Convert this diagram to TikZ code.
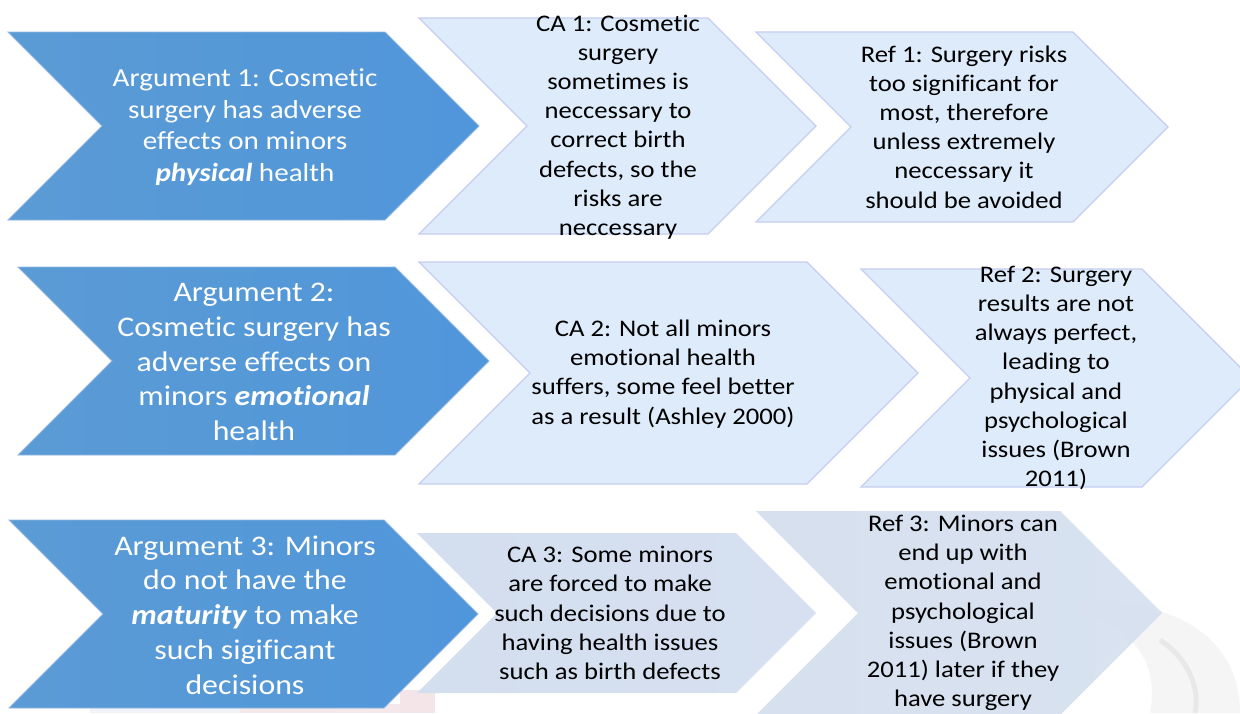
\documentclass[tikz,border=0pt]{standalone}
\usepackage{fontspec}
\setmainfont{Carlito}[FakeStretch=1.12, Ligatures={NoCommon}]
\usetikzlibrary{calc}

\definecolor{argL}{HTML}{5B9BD5}
\definecolor{argR}{HTML}{5096DA}
\definecolor{argEdge}{HTML}{8FB6E3}
\definecolor{paleFill}{HTML}{DDEBFA}
\definecolor{paleEdge}{HTML}{C6CDF2}
\definecolor{greyFill}{HTML}{D3DEEE}
\definecolor{greyFillB}{HTML}{D6E0F0}
\definecolor{hazeGrey}{HTML}{DADADA}
\definecolor{hazePink}{HTML}{EBCDD3}
\definecolor{hazeBlue}{HTML}{D9DDEE}

% chevron: left x, tip x, centre y, half height (45 degree sides)
\newcommand{\chevron}[5]{%
  \path[#1] (#2,#4-#5) -- (#3-#5,#4-#5) -- (#3,#4) -- (#3-#5,#4+#5)
    -- (#2,#4+#5) -- (#2+#5,#4) -- cycle;}

\tikzset{
  argshape/.style={left color=argL, right color=argR, draw=argEdge, line width=0.8pt},
  paleshape/.style={fill=paleFill, draw=paleEdge, line width=1.2pt},
  greyshape/.style={left color=greyFill, right color=greyFillB, draw=none},
  argtext/.style={align=center, text=white, inner sep=0pt,
    font=\fontsize{28.4}{34.7}\selectfont},
  argtextsmall/.style={argtext, font=\fontsize{26}{31.7}\selectfont},
  boxtext/.style={align=center, text=black, inner sep=0pt,
    font=\fontsize{23.8}{29.2}\selectfont},
}
\newcommand{\emword}[1]{\textbf{\textit{#1}}}

\begin{document}
\begin{tikzpicture}[x=1pt,y=-1pt]
\useasboundingbox (0,0) rectangle (1240,713);
\clip (0,0) rectangle (1240,713);
\fill[white] (0,0) rectangle (1240,713);

% faint backdrop along the lower edge
\fill[hazeBlue, opacity=0.35] (90,705) rectangle (240,713);
\fill[hazePink, opacity=0.45] (240,704) rectangle (400,713);
\fill[hazePink, opacity=0.5] (400,690) rectangle (435,713);
\fill[hazeGrey, opacity=0.25]
  (1080,600) .. controls (1180,600) and (1240,640) .. (1240,713) -- (1150,713)
  .. controls (1160,660) and (1130,625) .. (1080,615) -- cycle;
\draw[hazeGrey, line width=5pt, opacity=0.45]
  (1160,640) .. controls (1190,660) and (1200,690) .. (1195,713);

% row 1
\chevron{argshape}{8}{479}{126}{94}
\chevron{paleshape}{419}{816}{126}{108}
\chevron{paleshape}{756}{1168}{127}{95}
% row 2
\chevron{argshape}{18}{489}{361}{94}
\chevron{paleshape}{419}{918}{373}{111}
\chevron{paleshape}{861}{1251}{378}{109}
% row 3
\chevron{argshape}{9}{478}{614}{94}
\chevron{greyshape}{417}{816}{613}{80}
\chevron{greyshape, opacity=0.93}{756}{1162}{613}{102}

% texts
\node[argtextsmall] (arg1) at (245,127) {Argument 1: Cosmetic\\surgery has adverse\\effects on minors\\\emword{physical} health};
\node[boxtext] (ca1) at (618,127) {CA 1: Cosmetic\\surgery\\sometimes is\\neccessary to\\correct birth\\defects, so the\\risks are\\neccessary};
\node[boxtext] (ref1) at (964,127) {Ref 1: Surgery risks\\too significant for\\most, therefore\\unless extremely\\neccessary it\\should be avoided};

\node[argtext] (arg2) at (254,362) {Argument 2:\\Cosmetic surgery has\\adverse effects on\\minors \emword{emotional}\\health};
\node[boxtext] (ca2) at (663,374) {CA 2: Not all minors\\emotional health\\suffers, some feel better\\as a result (Ashley 2000)};
\node[boxtext] (ref2) at (1056,378) {Ref 2: Surgery\\results are not\\always perfect,\\leading to\\physical and\\psychological\\issues (Brown\\2011)};

\node[argtext] (arg3) at (245,615) {Argument 3: Minors\\do not have the\\\emword{maturity} to make\\such sigificant\\decisions};
\node[boxtext] (ca3) at (610,613) {CA 3: Some minors\\are forced to make\\such decisions due to\\having health issues\\such as birth defects};
\node[boxtext] (ref3) at (963,613) {Ref 3: Minors can\\end up with\\emotional and\\psychological\\issues (Brown\\2011) later if they\\have surgery};
\end{tikzpicture}
\end{document}
